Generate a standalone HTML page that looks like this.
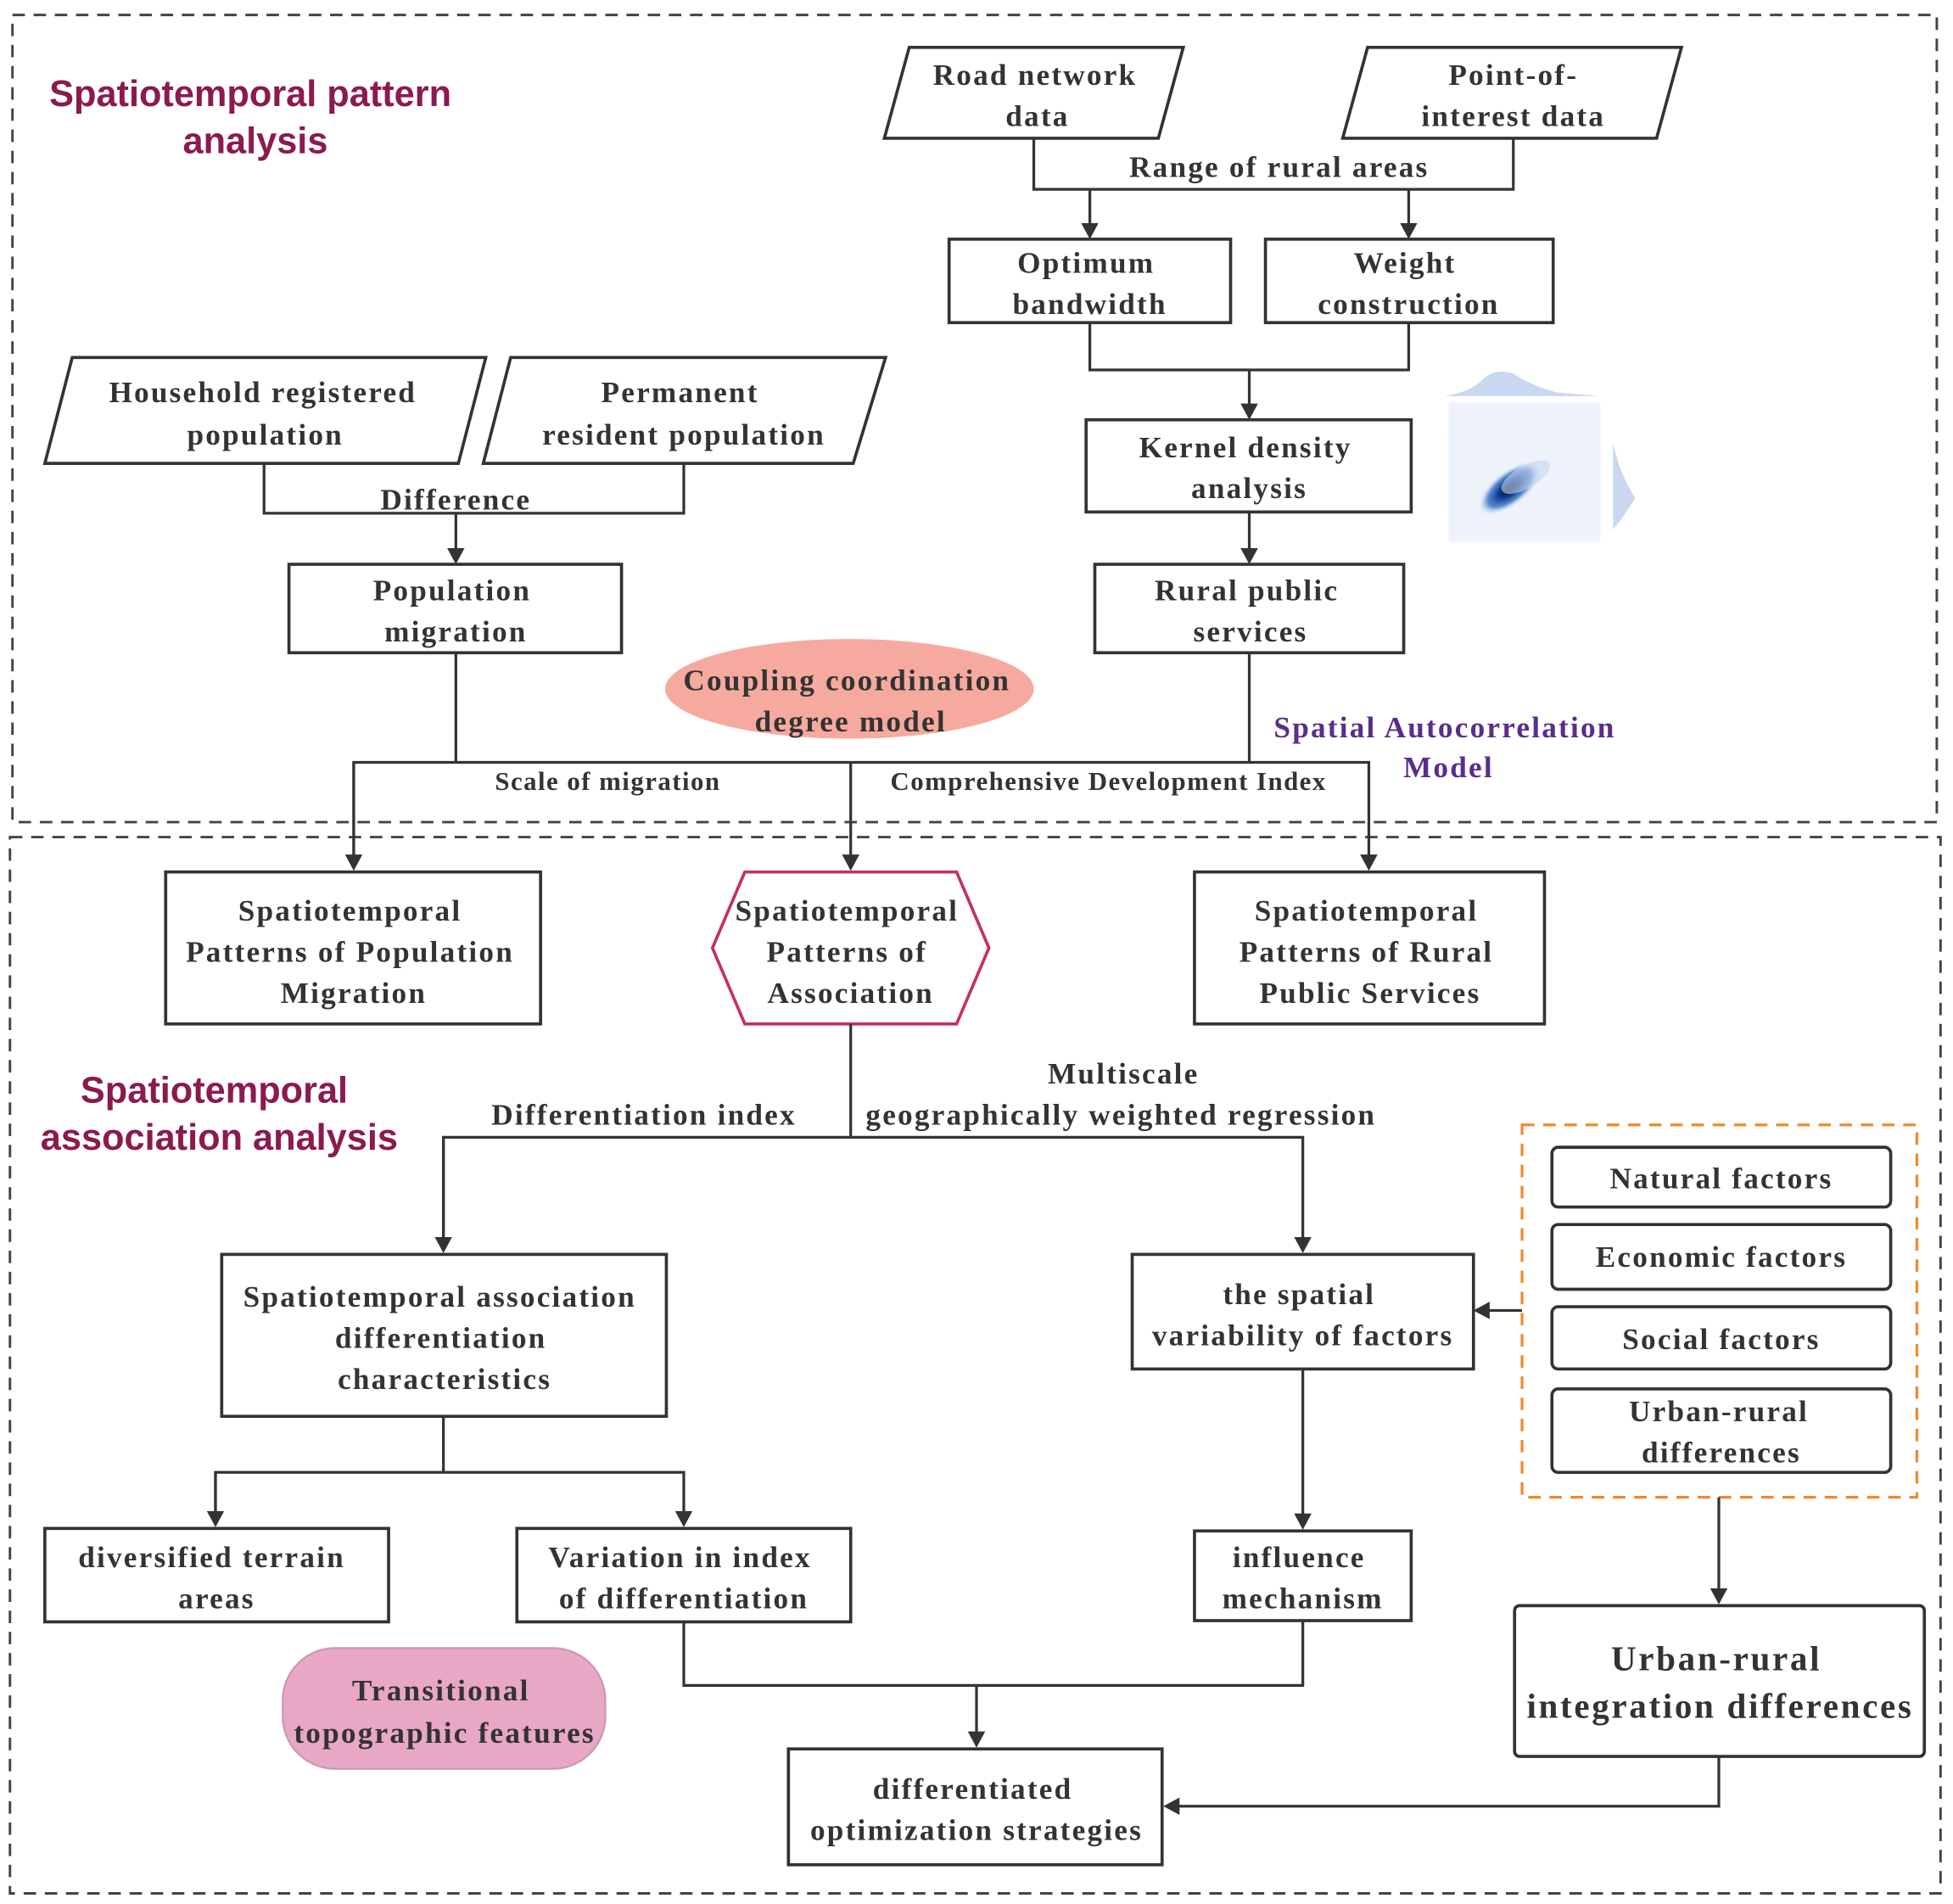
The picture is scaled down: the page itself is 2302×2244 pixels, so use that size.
<!DOCTYPE html>
<html><head><meta charset="utf-8"><style>
html,body{margin:0;padding:0;background:#fff}
svg{display:block}
.t{font-family:"Liberation Serif",serif;font-weight:bold;fill:#333;font-size:24px;text-anchor:middle;letter-spacing:1.5px}
.s{font-size:21px;letter-spacing:1px}
.h{font-family:"Liberation Sans",sans-serif;font-weight:bold;fill:#8b1a4f;font-size:29.5px;text-anchor:middle}
.b{fill:#fff;stroke:#333;stroke-width:2.5}
.l{fill:none;stroke:#333;stroke-width:2.2}
</style></head><body>
<svg width="2302" height="2244" viewBox="0 0 1568 1528.5" preserveAspectRatio="none" xmlns="http://www.w3.org/2000/svg">
<defs>
<marker id="a" markerWidth="14" markerHeight="14" refX="11" refY="7" orient="auto" markerUnits="userSpaceOnUse"><path d="M0,0 L13,7 L0,14 Z" fill="#333"/></marker>
<radialGradient id="g" cx="0.5" cy="0.5" r="0.5"><stop offset="0" stop-color="#000814"/><stop offset="0.35" stop-color="#0a3d8f"/><stop offset="0.7" stop-color="#5f8fd0"/><stop offset="1" stop-color="#dbe6f7" stop-opacity="0"/></radialGradient>
</defs>
<rect x="10" y="12" width="1545" height="648" fill="none" stroke="#444" stroke-width="2" stroke-dasharray="10,7"/>
<rect x="8" y="672" width="1550" height="848" fill="none" stroke="#444" stroke-width="2" stroke-dasharray="10,7"/>
<text class="h" x="201" y="85">Spatiotemporal pattern</text>
<text class="h" x="205" y="123">analysis</text>
<text class="h" x="172" y="885">Spatiotemporal</text>
<text class="h" x="176" y="923">association analysis</text>

<polygon class="b" points="730,38 950,38 930,111 710,111"/>
<text class="t" x="831" y="68">Road network</text><text class="t" x="833" y="101">data</text>
<polygon class="b" points="1098,38 1350,38 1330,111 1078,111"/>
<text class="t" x="1215" y="68">Point-of-</text><text class="t" x="1215" y="101">interest data</text>
<polyline class="l" points="830,111 830,152 1215,152 1215,111"/>
<text class="t" x="1027" y="142">Range of rural areas</text>
<line class="l" x1="875" y1="152" x2="875" y2="190" marker-end="url(#a)"/>
<line class="l" x1="1131" y1="152" x2="1131" y2="190" marker-end="url(#a)"/>
<rect class="b" x="762" y="192" width="226" height="67"/>
<text class="t" x="872" y="219">Optimum</text><text class="t" x="875" y="252">bandwidth</text>
<rect class="b" x="1016" y="192" width="231" height="67"/>
<text class="t" x="1128" y="219">Weight</text><text class="t" x="1131" y="252">construction</text>
<polyline class="l" points="875,259 875,297 1131,297 1131,259"/>
<line class="l" x1="1003" y1="297" x2="1003" y2="335" marker-end="url(#a)"/>
<rect class="b" x="872" y="337" width="261" height="74"/>
<text class="t" x="1000" y="367">Kernel density</text><text class="t" x="1003" y="400">analysis</text>
<line class="l" x1="1003" y1="411" x2="1003" y2="451" marker-end="url(#a)"/>
<rect class="b" x="879" y="453" width="248" height="71"/>
<text class="t" x="1001" y="482">Rural public</text><text class="t" x="1004" y="515">services</text>
<g>
<path d="M1160,318 Q1180,315 1190,305 Q1200,295 1215,300 Q1230,310 1250,315 L1285,318 Z" fill="#c9d8f0"/>
<rect x="1163" y="323" width="122" height="112" fill="#eef3fb"/>
<ellipse cx="1212" cy="392" rx="30" ry="14" transform="rotate(-38 1212 392)" fill="url(#g)"/>
<ellipse cx="1225" cy="383" rx="22" ry="9" transform="rotate(-30 1225 383)" fill="#c4d6f0" opacity="0.6"/>
<path d="M1295,355 Q1300,380 1313,400 Q1300,420 1295,425 Z" fill="#c9d8f0"/>
</g>

<polygon class="b" points="58,287 390,287 368,372 36,372"/>
<text class="t" x="211" y="323">Household registered</text><text class="t" x="213" y="357">population</text>
<polygon class="b" points="410,287 711,287 685,372 388,372"/>
<text class="t" x="546" y="323">Permanent</text><text class="t" x="549" y="357">resident population</text>
<polyline class="l" points="212,372 212,412 549,412 549,372"/>
<text class="t" x="366" y="409">Difference</text>
<line class="l" x1="366" y1="412" x2="366" y2="451" marker-end="url(#a)"/>
<rect class="b" x="232" y="453" width="267" height="71"/>
<text class="t" x="363" y="482">Population</text><text class="t" x="366" y="515">migration</text>
<line class="l" x1="366" y1="524" x2="366" y2="612"/>
<line class="l" x1="1003" y1="524" x2="1003" y2="612"/>
<ellipse cx="682" cy="553" rx="148" ry="40" fill="#f6aa9f"/>
<text class="t" x="680" y="554">Coupling coordination</text><text class="t" x="683" y="587">degree model</text>
<text class="t" x="1160" y="592" style="fill:#5a2d8c">Spatial Autocorrelation</text>
<text class="t" x="1163" y="624" style="fill:#5a2d8c">Model</text>
<polyline class="l" points="284,697 284,612 1099,612 1099,697" marker-end="url(#a)"/>
<line class="l" x1="284" y1="612" x2="284" y2="697" marker-end="url(#a)"/>
<line class="l" x1="683" y1="612" x2="683" y2="697" marker-end="url(#a)"/>
<text class="t s" x="488" y="634">Scale of migration</text>
<text class="t s" x="890" y="634">Comprehensive Development Index</text>

<rect class="b" x="133" y="700" width="301" height="122"/>
<text class="t" x="281" y="739">Spatiotemporal</text><text class="t" x="281" y="772">Patterns of Population</text><text class="t" x="284" y="805">Migration</text>
<polygon points="598,700 768,700 794,761 768,822 598,822 572,761" fill="#fff" stroke="#c3306a" stroke-width="2.5"/>
<text class="t" x="680" y="739">Spatiotemporal</text><text class="t" x="680" y="772">Patterns of</text><text class="t" x="683" y="805">Association</text>
<rect class="b" x="959" y="700" width="281" height="122"/>
<text class="t" x="1097" y="739">Spatiotemporal</text><text class="t" x="1097" y="772">Patterns of Rural</text><text class="t" x="1100" y="805">Public Services</text>
<line class="l" x1="683" y1="822" x2="683" y2="913"/>
<polyline class="l" points="356,1004 356,913 1046,913 1046,1004" marker-end="url(#a)"/>
<line class="l" x1="356" y1="913" x2="356" y2="1004" marker-end="url(#a)"/>
<text class="t" x="517" y="903">Differentiation index</text>
<text class="t" x="902" y="870">Multiscale</text>
<text class="t" x="900" y="903">geographically weighted regression</text>

<rect class="b" x="178" y="1007" width="357" height="130"/>
<text class="t" x="353" y="1049">Spatiotemporal association</text><text class="t" x="354" y="1082">differentiation</text><text class="t" x="357" y="1115">characteristics</text>
<line class="l" x1="356" y1="1137" x2="356" y2="1182"/>
<polyline class="l" points="173,1224 173,1182 549,1182 549,1224" marker-end="url(#a)"/>
<line class="l" x1="173" y1="1182" x2="173" y2="1224" marker-end="url(#a)"/>
<rect class="b" x="36" y="1227" width="276" height="75"/>
<text class="t" x="170" y="1258">diversified terrain</text><text class="t" x="174" y="1291">areas</text>
<rect class="b" x="415" y="1227" width="268" height="75"/>
<text class="t" x="546" y="1258">Variation in index</text><text class="t" x="549" y="1291">of differentiation</text>

<rect class="b" x="909" y="1007" width="274" height="92"/>
<text class="t" x="1043" y="1047">the spatial</text><text class="t" x="1046" y="1080">variability of factors</text>
<line class="l" x1="1222" y1="1052" x2="1185" y2="1052" marker-end="url(#a)"/>
<line class="l" x1="1046" y1="1099" x2="1046" y2="1226" marker-end="url(#a)"/>
<rect class="b" x="959" y="1229" width="174" height="72"/>
<text class="t" x="1043" y="1258">influence</text><text class="t" x="1046" y="1291">mechanism</text>

<rect x="1222" y="903" width="317" height="299" fill="none" stroke="#f08a2c" stroke-width="2.2" stroke-dasharray="10,7"/>
<rect class="b" x="1246" y="921" width="272" height="48" rx="5"/>
<text class="t" x="1382" y="954">Natural factors</text>
<rect class="b" x="1246" y="983" width="272" height="52" rx="5"/>
<text class="t" x="1382" y="1017">Economic factors</text>
<rect class="b" x="1246" y="1049" width="272" height="50" rx="5"/>
<text class="t" x="1382" y="1083">Social factors</text>
<rect class="b" x="1246" y="1115" width="272" height="67" rx="5"/>
<text class="t" x="1380" y="1141">Urban-rural</text><text class="t" x="1382" y="1174">differences</text>
<line class="l" x1="1380" y1="1202" x2="1380" y2="1286" marker-end="url(#a)"/>
<rect class="b" x="1216" y="1289" width="329" height="121" rx="4"/>
<text class="t" x="1378" y="1341" style="font-size:28px;letter-spacing:1.8px">Urban-rural</text>
<text class="t" x="1381" y="1379" style="font-size:28px;letter-spacing:1.8px">integration differences</text>

<polyline class="l" points="549,1302 549,1353 1046,1353 1046,1301"/>
<line class="l" x1="784" y1="1353" x2="784" y2="1401" marker-end="url(#a)"/>
<rect class="b" x="633" y="1404" width="300" height="93"/>
<text class="t" x="781" y="1444">differentiated</text><text class="t" x="784" y="1477">optimization strategies</text>
<polyline class="l" points="1380,1410 1380,1450 936,1450" marker-end="url(#a)"/>

<rect x="227" y="1323" width="259" height="97" rx="42" fill="#e9a7c6" stroke="#c898b0" stroke-width="1.5"/>
<text class="t" x="354" y="1365">Transitional</text><text class="t" x="357" y="1399">topographic features</text>
</svg>
</body></html>
